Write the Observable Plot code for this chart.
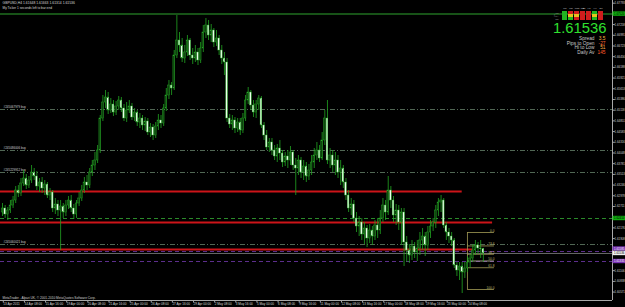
<!DOCTYPE html>
<html><head><meta charset="utf-8">
<script src="https://cdn.jsdelivr.net/npm/d3@7"></script>
<script src="https://cdn.jsdelivr.net/npm/@observablehq/plot@0.6"></script>
<style>
html,body{margin:0;padding:0;background:#000;}
#chart{position:relative;width:625px;height:307px;overflow:hidden;background:#000;}
#panel{position:absolute;left:550px;top:4px;}
svg{display:block;}
</style></head><body><div id="chart"><div id="panel"></div></div>
<script>
// ---------- data (GBPUSD H4) ----------
const symbolInfo = "GBPUSD,H4 1.61648 1.61663 1.61314 1.61536";
const timerInfo = "My Ticker 1 seconds left to bar end";
const copyright = "MetaTrader - Alpari UK, \u00a9 2001-2010 MetaQuotes Software Corp.";

const open = [1.6256,
1.6266,1.6251,1.6261,1.62735,1.6286,1.6311,1.63035,1.63285,1.6341,1.63235,
1.6336,1.6356,1.6346,1.6321,1.6331,1.6316,1.6326,1.62985,1.6306,1.6266,
1.6276,1.6261,1.6271,1.6256,1.62735,1.6286,1.6266,1.6251,1.62785,1.6291,
1.6311,1.6331,1.63235,1.6356,1.63735,1.6386,1.6411,1.6491,1.6531,1.65435,
1.6511,1.6526,1.6506,1.6521,1.6536,1.6516,1.6491,1.6511,1.6521,1.64935,
1.6506,1.6481,1.6491,1.64735,1.64835,1.6456,1.64685,1.64485,1.6471,1.6486,
1.64785,1.6516,1.65485,1.65735,1.6566,1.66485,1.6686,1.66735,1.6641,1.6656,
1.6686,1.66485,1.6641,1.6656,1.6636,1.6666,1.6706,1.67235,1.66985,1.6711,
1.6681,1.6691,1.6661,1.6641,1.6631,1.6491,1.6476,1.6486,1.6466,1.6481,
1.6461,1.6491,1.6536,1.6556,1.65235,1.6506,1.6526,1.6541,1.64735,1.64485,
1.64185,1.6431,1.6411,1.6396,1.6416,1.64035,1.6381,1.6396,1.6386,1.6406,
1.63735,1.6366,1.6386,1.6356,1.6371,1.6346,1.6361,1.6381,1.63985,1.6411,
1.6391,1.6436,1.6491,1.6386,1.63985,1.63735,1.6386,1.6356,1.6366,1.6331,
1.62985,1.6266,1.6276,1.6241,1.6221,1.6231,1.6201,1.6216,1.6191,1.6211,
1.6196,1.62235,1.6211,1.6241,1.62735,1.6256,1.6311,1.6286,1.62485,1.6261,
1.6231,1.6256,1.6181,1.6161,1.61485,1.6171,1.6156,1.6166,1.6186,1.6196,
1.61735,1.6206,1.6221,1.6231,1.6261,1.6281,1.6286,1.62235,1.6206,1.6196,
1.6186,1.61235,1.6111,1.6121,1.6106,1.6116,1.6131,1.6141,1.6161,1.61735,
1.6166,1.61648];

const close = [
1.6266,1.6251,1.6261,1.62735,1.6286,1.6311,1.63035,1.63285,1.6341,1.63235,
1.6336,1.6356,1.6346,1.6321,1.6331,1.6316,1.6326,1.62985,1.6306,1.6266,
1.6276,1.6261,1.6271,1.6256,1.62735,1.6286,1.6266,1.6251,1.62785,1.6291,
1.6311,1.6331,1.63235,1.6356,1.63735,1.6386,1.6411,1.6491,1.6531,1.65435,
1.6511,1.6526,1.6506,1.6521,1.6536,1.6516,1.6491,1.6511,1.6521,1.64935,
1.6506,1.6481,1.6491,1.64735,1.64835,1.6456,1.64685,1.64485,1.6471,1.6486,
1.64785,1.6516,1.65485,1.65735,1.6566,1.66485,1.6686,1.66735,1.6641,1.6656,
1.6686,1.66485,1.6641,1.6656,1.6636,1.6666,1.6706,1.67235,1.66985,1.6711,
1.6681,1.6691,1.6661,1.6641,1.6631,1.6491,1.6476,1.6486,1.6466,1.6481,
1.6461,1.6491,1.6536,1.6556,1.65235,1.6506,1.6526,1.6541,1.64735,1.64485,
1.64185,1.6431,1.6411,1.6396,1.6416,1.64035,1.6381,1.6396,1.6386,1.6406,
1.63735,1.6366,1.6386,1.6356,1.6371,1.6346,1.6361,1.6381,1.63985,1.6411,
1.6391,1.6436,1.6491,1.6386,1.63985,1.63735,1.6386,1.6356,1.6366,1.6331,
1.62985,1.6266,1.6276,1.6241,1.6221,1.6231,1.6201,1.6216,1.6191,1.6211,
1.6196,1.62235,1.6211,1.6241,1.62735,1.6256,1.6311,1.6286,1.62485,1.6261,
1.6231,1.6256,1.6181,1.6161,1.61485,1.6171,1.6156,1.6166,1.6186,1.6196,
1.61735,1.6206,1.6221,1.6231,1.6261,1.6281,1.6286,1.62235,1.6206,1.6196,
1.6186,1.61235,1.6111,1.6121,1.6106,1.6116,1.6131,1.6141,1.6161,1.61735,
1.6166,1.61648,1.61536];

const high = [
1.62785,1.62735,1.62685,1.6286,1.6296,1.6321,1.63235,1.6341,1.6361,1.6351,
1.6346,1.63735,1.6366,1.63585,1.6341,1.63435,1.6336,1.6331,1.6316,1.6311,
1.6291,1.6286,1.6286,1.62785,1.6286,1.6296,1.62985,1.6276,1.6286,1.6306,
1.63235,1.63435,1.63485,1.6366,1.6386,1.6406,1.64235,1.64985,1.65485,1.6561,
1.6556,1.6541,1.6536,1.65335,1.6546,1.65435,1.6526,1.6531,1.6536,1.65285,
1.6516,1.6511,1.65035,1.64985,1.64935,1.6491,1.64785,1.6476,1.6481,1.6501,
1.64985,1.6526,1.6566,1.6586,1.6581,1.6661,1.67485,1.6706,1.6691,1.66735,
1.66985,1.6691,1.6666,1.66735,1.6666,1.6681,1.67235,1.6741,1.6736,1.6726,
1.6716,1.6711,1.66985,1.66735,1.6656,1.6641,1.6501,1.64985,1.64935,1.6491,
1.6491,1.65035,1.65485,1.65685,1.6561,1.6536,1.6536,1.65485,1.6546,1.6481,
1.6461,1.6441,1.6441,1.64235,1.6426,1.6436,1.6411,1.6406,1.6411,1.6421,
1.6411,1.6391,1.63985,1.63935,1.6386,1.6381,1.6376,1.63985,1.6416,1.6431,
1.64235,1.6456,1.6511,1.6536,1.6416,1.6411,1.6406,1.63985,1.6386,1.63735,
1.6341,1.6311,1.6291,1.6286,1.6256,1.6246,1.6241,1.6231,1.62235,1.6226,
1.6221,1.6236,1.6241,1.6261,1.6291,1.6286,1.6346,1.6321,1.6296,1.6276,
1.62735,1.6266,1.6266,1.6196,1.6176,1.6186,1.6181,1.6186,1.6206,1.6216,
1.6206,1.6221,1.6236,1.6241,1.62735,1.6291,1.62985,1.6291,1.6231,1.6216,
1.6206,1.6191,1.6131,1.6131,1.6131,1.6131,1.6146,1.6151,1.6176,1.6186,
1.6181,1.6186,1.61663];

const low = [
1.6246,1.6241,1.6236,1.62535,1.6266,1.62785,1.62935,1.6296,1.6321,1.63135,
1.6316,1.63285,1.6336,1.6311,1.6306,1.63035,1.62985,1.6291,1.6286,1.6256,
1.6251,1.6246,1.6161,1.6241,1.6246,1.62635,1.6256,1.62385,1.6241,1.6271,
1.62835,1.63035,1.6311,1.6316,1.6346,1.6361,1.63785,1.64035,1.64835,1.6516,
1.6501,1.65035,1.6496,1.64985,1.6511,1.6506,1.64835,1.6481,1.65035,1.6486,
1.64835,1.6471,1.6466,1.6461,1.64585,1.64485,1.64435,1.6436,1.6441,1.6461,
1.6466,1.6471,1.65085,1.65385,1.65485,1.6561,1.6641,1.6656,1.6631,1.66285,
1.6646,1.6636,1.6626,1.6631,1.66235,1.66285,1.6656,1.6691,1.6686,1.6681,
1.66685,1.6671,1.66485,1.6626,1.65985,1.6481,1.6466,1.6461,1.64535,1.6456,
1.64485,1.64535,1.64835,1.6526,1.6511,1.64935,1.6491,1.6511,1.6466,1.6436,
1.6411,1.6406,1.63985,1.6386,1.6381,1.6386,1.63685,1.6371,1.6366,1.63735,
1.6361,1.62985,1.63485,1.6341,1.6336,1.6331,1.6336,1.63485,1.6366,1.6386,
1.6381,1.6386,1.64235,1.6376,1.6366,1.6356,1.63485,1.6341,1.63235,1.6316,
1.6286,1.6256,1.62485,1.6231,1.6206,1.6196,1.6186,1.6176,1.61685,1.61785,
1.61735,1.6186,1.6191,1.6201,1.6231,1.6236,1.62485,1.6266,1.6231,1.62235,
1.6211,1.61735,1.6121,1.6131,1.61285,1.6136,1.6141,1.61335,1.61485,1.6161,
1.6146,1.6161,1.6191,1.62085,1.6216,1.6246,1.6256,1.6216,1.6186,1.61785,
1.6171,1.6116,1.6096,1.6086,1.60535,1.6091,1.6106,1.6116,1.6131,1.61485,
1.6151,1.6141,1.61314];

// time axis: one label every 8 H4 bars
const barsPerLabel = 8;
const dateLabels = ["13 Apr 2011","14 Apr 08:00","15 Apr 16:00","19 Apr 00:00","20 Apr 08:00",
"21 Apr 16:00","25 Apr 00:00","26 Apr 08:00","27 Apr 16:00","29 Apr 00:00","2 May 08:00",
"3 May 16:00","5 May 00:00","6 May 08:00","9 May 16:00","11 May 00:00","12 May 08:00",
"13 May 16:00","17 May 00:00","18 May 08:00","19 May 16:00","23 May 00:00","24 May 08:00"];

// price axis labels
const priceTicks = [1.67793,1.67526,1.67258,1.66991,1.66723,1.66456,1.66188,1.65921,1.65653,
1.65386,1.65118,1.64851,1.64583,1.64316,1.64048,1.63781,1.63513,1.63246,1.62978,1.62711,
1.62443,1.62176,1.61908,1.61641,1.61373,1.61106,1.60838,1.60571];

// horizontal objects
const highLine = 1.6752;
const targetLine = 1.6241;
const bidPrice = 1.61536;
const purpleLevels = [1.61585, 1.61335];
const orderLevels = [1.65135, 1.6411, 1.6356, 1.6176];
const orderTickets = ["#245067979 buy", "#245086006 buy", "#245229912 buy", "#245060021 buy"];
const redLevels = [1.63085, 1.6231, 1.61635];
const redEnds = [174, 185.5, 178];

// Fibonacci retracement
const fibRatios = [0, 23.6, 38.2, 50, 61.8, 100];
const fibTop = 1.6206, fibBottom = 1.60635;
const fibFromBar = 176, fibToBar = 186.2;

// info panel
const timeframes = ["M1","M5","M15","M30","H1","H4","D1"];
const panelRows = ["TR","MA","OS"];
const panelStates = [
  ["up","down","down","down","down","up","down"],
  ["up","flat","flat","down","down","flat","down"],
  ["up","up","down","down","down","up","down"]
];
const statLabels = ["Spread","Pips to Open","Hi to Low","Daily Av"];
const statValues = ["3.5","-27","51","145"];

// ---------- build ----------
const bars = close.map((c, i) => ({i, o: open[i], h: high[i], l: low[i], c}));
const upBars = bars.filter(d => d.c >= d.o);
const downBars = bars.filter(d => d.c < d.o);
const xMin = -0.757, xMax = 230.89;
const yMin = 1.6036, yMax = 1.6786;
const dateTicks = dateLabels.map((_, k) => k * barsPerLabel);
const orders = orderLevels.map((p, k) => ({p, label: orderTickets[k]}));
const reds = redLevels.map((p, k) => ({p, end: redEnds[k]}));
const fib = fibRatios.map(r => ({r, p: fibTop - (fibTop - fibBottom) * r / 100}));
// price tags on the axis (the upper purple tag sits just above its line, as MT4 stacks them)
const tags = [
  {p: highLine, at: highLine, bg: "#0fae0f", fg: "#000"},
  {p: targetLine, at: targetLine, bg: "#0fae0f", fg: "#000"},
  {p: purpleLevels[0], at: purpleLevels[0] + 0.00062, bg: "#7a32b4", fg: "#fff"},
  {p: purpleLevels[1], at: purpleLevels[1], bg: "#7a32b4", fg: "#fff"},
  {p: bidPrice, at: bidPrice, bg: "#f0f0f0", fg: "#000"}
];
const tagHalf = 0.00055;
const visibleTicks = priceTicks.filter(t => tags.every(g => Math.abs(g.at - t) > 0.0012));
const valueColors = ["#ffb347", "#ff6a33", "#ffb347", "#ff5a2a"];
const font = "'Liberation Sans', Arial, sans-serif";

const statMarks = statLabels.flatMap((l, k) => [
  Plot.text([l], {text: d => d, frameAnchor: "top-right", dx: -18, dy: 37.8 + k * 4.8, lineAnchor: "middle", textAnchor: "end", fontSize: 4.8, fill: "#c8c8c8"}),
  Plot.text([statValues[k]], {text: d => d, frameAnchor: "top-right", dx: -7, dy: 37.8 + k * 4.8, lineAnchor: "middle", textAnchor: "end", fontSize: 4.8, fill: valueColors[k]})
]);

const chart = Plot.plot({
  width: 625, height: 307,
  marginTop: 0, marginBottom: 7, marginLeft: 0, marginRight: 13,
  style: {background: "#000", fontFamily: font, overflow: "visible"},
  color: {type: "identity"},
  x: {domain: [xMin, xMax], axis: null},
  y: {domain: [yMin, yMax], axis: null},
  marks: [
    Plot.ruleY(orderLevels, {stroke: "#66826a", strokeWidth: 0.8, strokeDasharray: "5,2,1,2"}),
    Plot.ruleY([highLine], {stroke: "#1f6e1f", strokeWidth: 1.5}),
    Plot.ruleY([targetLine], {stroke: "#2f9a2f", strokeWidth: 0.9, strokeDasharray: "4,3"}),
    Plot.ruleY(purpleLevels, {stroke: "#5c2e8c", strokeWidth: 1, strokeDasharray: "4,3"}),
    Plot.ruleY([bidPrice], {stroke: "#6a6a6a", strokeWidth: 1}),
    Plot.ruleY(reds, {y: "p", x1: () => xMin, x2: "end", stroke: "#cc1419", strokeWidth: 1.8}),
    Plot.text(orders, {y: "p", text: "label", frameAnchor: "left", dx: 3, dy: -2, textAnchor: "start", fontSize: 3, fill: "#cfcfcf"}),
    // fibo
    Plot.ruleY(fib, {y: "p", x1: () => fibFromBar, x2: () => fibToBar, stroke: d => d.r === 50 ? "#c9c6a8" : "#a39c55", strokeWidth: 0.8}),
    Plot.ruleX([fibFromBar], {y1: () => fibBottom, y2: () => fibTop, stroke: "#a39c55", strokeWidth: 0.8}),
    Plot.text(fib, {x: () => fibToBar, y: "p", text: d => d.r.toFixed(1), textAnchor: "end", dy: -1.8, fontSize: 3.2, fill: "#bdb571"}),
    // candles
    Plot.ruleX(bars, {x: "i", y1: "l", y2: "h", stroke: "#22a622", strokeWidth: 0.8}),
    Plot.rect(upBars, {x1: d => d.i - 0.32, x2: d => d.i + 0.32, y1: "o", y2: "c", fill: "#0e420e", stroke: "#28b028", strokeWidth: 0.4}),
    Plot.rect(downBars, {x1: d => d.i - 0.32, x2: d => d.i + 0.32, y1: "o", y2: "c", fill: "#eaffea", stroke: "#28b028", strokeWidth: 0.4}),
    // frame lines
    Plot.ruleY([yMin], {stroke: "#a8a8a8", strokeWidth: 1}),
    Plot.ruleX([xMax], {stroke: "#a8a8a8", strokeWidth: 1}),
    // axes
    Plot.axisX(dateTicks, {anchor: "bottom", tickFormat: d => dateLabels[d / barsPerLabel], tickSize: 2.5, tickPadding: 0, textAnchor: "start", dx: 0.8, fontSize: 3.1, fill: "#d8d8d8", stroke: "#a8a8a8"}),
    Plot.axisY(visibleTicks, {anchor: "right", tickFormat: d => d.toFixed(5), tickSize: 1.8, tickPadding: 0.3, fontSize: 2.85, fill: "#d0d0d0", stroke: "#a8a8a8"}),
    // axis tags
    Plot.rect(tags, {x1: () => xMax + 0.2, x2: () => xMax + 6, y1: d => d.at - tagHalf, y2: d => d.at + tagHalf, fill: "bg"}),
    Plot.text(tags, {x: () => xMax + 0.6, y: "at", text: d => d.p.toFixed(5), textAnchor: "start", fontSize: 2.85, fill: "fg"}),
    // texts
    Plot.text([symbolInfo], {text: d => d, frameAnchor: "top-left", dx: 2, dy: 1.5, lineAnchor: "top", textAnchor: "start", fontSize: 3.4, fill: "#d8d8d8"}),
    Plot.text([timerInfo], {text: d => d, frameAnchor: "top-left", dx: 2, dy: 6.3, lineAnchor: "top", textAnchor: "start", fontSize: 3.2, fill: "#d8d8d8"}),
    Plot.text([copyright], {text: d => d, frameAnchor: "bottom-left", dx: 2, dy: -1.2, lineAnchor: "bottom", textAnchor: "start", fontSize: 3.2, fill: "#cfcfcf"}),
    Plot.text([bidPrice], {text: d => d.toFixed(5), frameAnchor: "top-right", dx: -6, dy: 27.3, lineAnchor: "middle", textAnchor: "end", fontSize: 14.8, fill: "#2fe02f"}),
    ...statMarks
  ]
});
document.getElementById("chart").prepend(chart);

// signal panel
const cells = [];
panelRows.forEach((r, ri) => timeframes.forEach((t, ti) => cells.push({row: r, tf: t, state: panelStates[ri][ti]})));
const panel = Plot.plot({
  width: 58, height: 17,
  marginTop: 5, marginBottom: 0, marginLeft: 9, marginRight: 1,
  style: {background: "transparent", fontFamily: font, overflow: "visible"},
  x: {domain: timeframes, padding: 0.12, axis: null},
  y: {domain: panelRows, padding: 0.1, axis: null},
  color: {domain: ["up", "flat", "down"], range: ["#21b521", "#e6c21e", "#d01d1d"]},
  marks: [
    Plot.cell(cells, {x: "tf", y: "row", fill: "state"}),
    Plot.axisX({anchor: "top", tickSize: 0, tickPadding: 0.8, fontSize: 2.4, fill: "#cfcfcf"}),
    Plot.axisY({anchor: "left", tickSize: 0, tickPadding: 1, fontSize: 2.2, fill: "#9a9a9a"})
  ]
});
document.getElementById("panel").appendChild(panel);
</script>
</body></html>
